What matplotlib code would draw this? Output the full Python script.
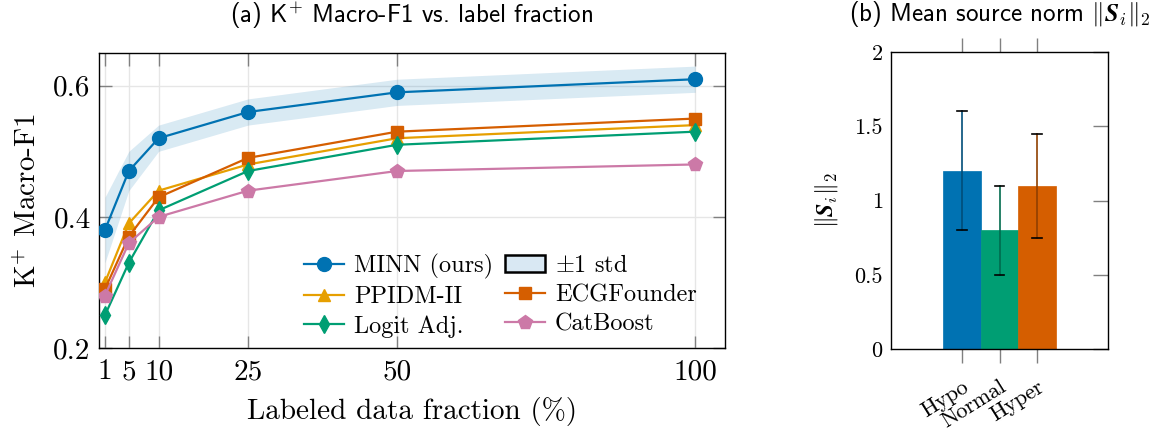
import matplotlib
matplotlib.use('Agg')
import matplotlib.pyplot as plt
from matplotlib.patches import Patch
import numpy as np

plt.rcParams['mathtext.fontset'] = 'cm'
plt.rcParams['axes.unicode_minus'] = False

# ---------------- data ----------------
fractions = [1, 5, 10, 25, 50, 100]
minn = [0.38, 0.47, 0.52, 0.56, 0.59, 0.61]
minn_std = [0.05, 0.03, 0.02, 0.02, 0.02, 0.02]
ppidm = [0.30, 0.39, 0.44, 0.48, 0.52, 0.54]
ecgf = [0.29, 0.37, 0.43, 0.49, 0.53, 0.55]
logit = [0.25, 0.33, 0.41, 0.47, 0.51, 0.53]
catb = [0.28, 0.36, 0.40, 0.44, 0.47, 0.48]
y_ticks_a = [0.2, 0.4, 0.6]
y_tick_labels_a = ['0.2', '0.4', '0.6']
x_tick_labels_a = ['1', '5', '10', '25', '50', '100']

groups = ['Hypo', 'Normal', 'Hyper']
norm_mean = [1.2, 0.8, 1.1]
norm_err = [0.4, 0.3, 0.35]
y_ticks_b = [0, 0.5, 1, 1.5, 2]
y_tick_labels_b = ['0', '0.5', '1', '1.5', '2']

C_BLUE = '#0072B2'
C_YEL = '#E69F00'
C_ORA = '#D55E00'
C_GRN = '#009E73'
C_PINK = '#CC79A7'
GRID = '#e6e6e6'
TICK = '#808080'

W, H = 1158, 430
fig = plt.figure(figsize=(W / 100, H / 100), dpi=100)

# ---------------- panel (a) ----------------
ax1 = fig.add_axes([99 / W, (H - 348) / H, (725 - 99) / W, (348 - 53) / H])
ax1.fill_between(fractions,
                 [m - s for m, s in zip(minn, minn_std)],
                 [m + s for m, s in zip(minn, minn_std)],
                 color=C_BLUE, alpha=0.15, linewidth=0, zorder=1)
series = [
    (minn, C_BLUE, 'o', 10, 'MINN (ours)'),
    (ppidm, C_YEL, '^', 9, 'PPIDM-II'),
    (ecgf, C_ORA, 's', 9, 'ECGFounder'),
    (logit, C_GRN, 'd', 9, 'Logit Adj.'),
    (catb, C_PINK, 'p', 10, 'CatBoost'),
]
handles = {}
for vals, col, mk, ms, lab in series:
    h, = ax1.plot(fractions, vals, color=col, marker=mk, markersize=ms,
                  linewidth=1.6, zorder=3, label=lab)
    handles[lab] = h
std_patch = Patch(facecolor='#d9e8f3', edgecolor='black', linewidth=1.8,
                  label=r'$\pm$1 std')

ax1.set_xlim(0, 105)
ax1.set_ylim(0.2, 0.65)
ax1.set_xticks(fractions)
ax1.set_xticklabels(x_tick_labels_a, fontfamily='cmr10', fontsize=21)
ax1.set_yticks(y_ticks_a)
ax1.set_yticklabels(y_tick_labels_a, fontfamily='cmr10', fontsize=21)
ax1.grid(True, color=GRID, linewidth=1.0, zorder=0)
ax1.set_axisbelow(True)
ax1.tick_params(axis='both', direction='in', color=TICK, length=9, width=1,
                top=True, right=True, pad=6)
ax1.tick_params(axis='x', pad=8)
for s in ax1.spines.values():
    s.set_color('black')
    s.set_linewidth(1.0)
ax1.set_xlabel('Labeled data fraction (%)', fontfamily='cmr10', fontsize=21, labelpad=8)
ax1.set_ylabel(r'K$^{+}$ Macro-F1', fontfamily='cmr10', fontsize=21, labelpad=8)
ax1.set_title(r'(a) K$^{+}$ Macro-F1 vs. label fraction', fontfamily='cmss10',
              fontsize=18, pad=22)

leg_handles = [handles['MINN (ours)'], handles['PPIDM-II'], handles['Logit Adj.'],
               std_patch, handles['ECGFounder'], handles['CatBoost']]
leg = ax1.legend(handles=leg_handles, ncol=2, loc='lower right',
                 bbox_to_anchor=(0.99, -0.04), frameon=False,
                 prop={'family': 'cmr10', 'size': 17.5},
                 handlelength=1.65, columnspacing=0.5, labelspacing=0.3,
                 handletextpad=0.4)

# ---------------- panel (b) ----------------
ax2 = fig.add_axes([891 / W, (H - 349) / H, (1108 - 891) / W, (349 - 52) / H])
xpos = np.arange(len(groups))
bar_cols = [C_BLUE, C_GRN, C_ORA]
ax2.bar(xpos, norm_mean, width=1.0, color=bar_cols, edgecolor=bar_cols,
        linewidth=0.5, zorder=2)
for x, m, e, c in zip(xpos, norm_mean, norm_err, bar_cols):
    ax2.plot([x, x], [m - e, m + e], color=c, linewidth=1.1, zorder=3)
    ax2.plot([x, x], [m - e, m + e], color='black', linewidth=1.1, alpha=0.35, zorder=3)
    ax2.plot([x - 0.13, x + 0.13], [m + e, m + e], color='black', linewidth=1.2, zorder=4)
    ax2.plot([x - 0.13, x + 0.13], [m - e, m - e], color='black', linewidth=1.2, zorder=4)
ax2.set_xlim(-1.88, 3.88)
ax2.set_ylim(0, 2)
ax2.set_xticks(xpos)
ax2.set_xticklabels(groups, fontfamily='cmr10', fontsize=16, rotation=32,
                    ha='right', rotation_mode='anchor')
ax2.set_yticks(y_ticks_b)
ax2.set_yticklabels(y_tick_labels_b, fontfamily='cmr10', fontsize=16)
ax2.tick_params(axis='x', direction='out', color=TICK, length=10, width=1,
                top=True, bottom=True, pad=10)
ax2.tick_params(axis='y', direction='in', color=TICK, length=11, width=1,
                left=False, right=True, pad=6)
for s in ax2.spines.values():
    s.set_color('black')
    s.set_linewidth(1.0)
ax2.set_ylabel(r'$\|\mathbfit{S}_i\|_2$', fontsize=17, labelpad=10)
ax2.set_title(r'(b) Mean source norm $\|\mathbfit{S}_i\|_2$', fontfamily='cmss10',
              fontsize=18, pad=22)

fig.savefig('out.png', dpi=100)
